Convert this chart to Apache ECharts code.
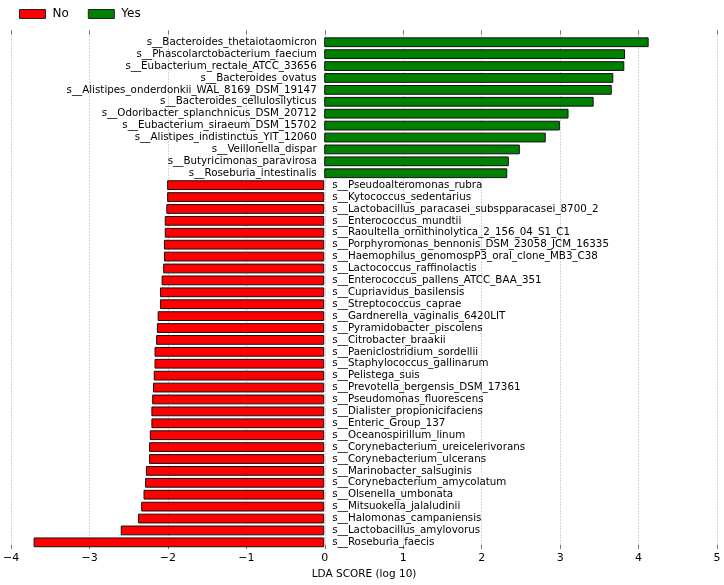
<!DOCTYPE html>
<html>
<head>
<meta charset="utf-8">
<script src="https://cdn.jsdelivr.net/npm/echarts@6/dist/echarts.min.js"></script>
<style>html,body{margin:0;padding:0;background:#fff}#c{width:724px;height:585px}</style>
</head>
<body>
<div id="c"></div>
<script>
const categories = [
  's__Bacteroides_thetaiotaomicron',
  's__Phascolarctobacterium_faecium',
  's__Eubacterium_rectale_ATCC_33656',
  's__Bacteroides_ovatus',
  's__Alistipes_onderdonkii_WAL_8169_DSM_19147',
  's__Bacteroides_cellulosilyticus',
  's__Odoribacter_splanchnicus_DSM_20712',
  's__Eubacterium_siraeum_DSM_15702',
  's__Alistipes_indistinctus_YIT_12060',
  's__Veillonella_dispar',
  's__Butyricimonas_paravirosa',
  's__Roseburia_intestinalis',
  's__Pseudoalteromonas_rubra',
  's__Kytococcus_sedentarius',
  's__Lactobacillus_paracasei_subspparacasei_8700_2',
  's__Enterococcus_mundtii',
  's__Raoultella_ornithinolytica_2_156_04_S1_C1',
  's__Porphyromonas_bennonis_DSM_23058_JCM_16335',
  's__Haemophilus_genomospP3_oral_clone_MB3_C38',
  's__Lactococcus_raffinolactis',
  's__Enterococcus_pallens_ATCC_BAA_351',
  's__Cupriavidus_basilensis',
  's__Streptococcus_caprae',
  's__Gardnerella_vaginalis_6420LIT',
  's__Pyramidobacter_piscolens',
  's__Citrobacter_braakii',
  's__Paeniclostridium_sordellii',
  's__Staphylococcus_gallinarum',
  's__Pelistega_suis',
  's__Prevotella_bergensis_DSM_17361',
  's__Pseudomonas_fluorescens',
  's__Dialister_propionicifaciens',
  's__Enteric_Group_137',
  's__Oceanospirillum_linum',
  's__Corynebacterium_ureicelerivorans',
  's__Corynebacterium_ulcerans',
  's__Marinobacter_salsuginis',
  's__Corynebacterium_amycolatum',
  's__Olsenella_umbonata',
  's__Mitsuokella_jalaludinii',
  's__Halomonas_campaniensis',
  's__Lactobacillus_amylovorus',
  's__Roseburia_faecis'
];
const ldaScores = [
  4.13, 3.83, 3.82, 3.68, 3.66, 3.43, 3.11, 3.00, 2.82, 2.49, 2.35, 2.33,
  -2.00, -2.00, -2.01, -2.03, -2.03, -2.04, -2.04, -2.05, -2.07, -2.09, -2.09,
  -2.12, -2.13, -2.14, -2.16, -2.16, -2.17, -2.18, -2.19, -2.20, -2.20,
  -2.22, -2.23, -2.23, -2.27, -2.28, -2.30, -2.33, -2.37, -2.59, -3.70
];
const groups = ['No', 'Yes'];
const groupColors = ['#ff0000', '#008000'];
const xTicks = [-4, -3, -2, -1, 0, 1, 2, 3, 4, 5];

const noData = ldaScores.map(v => v < 0 ? v : '-');
const yesData = ldaScores.map(v => v >= 0 ? v : '-');
const FONT = 'DejaVu Sans';

const chart = echarts.init(document.getElementById('c'), null, {renderer: 'canvas'});
chart.setOption({
  animation: false,
  textStyle: {fontFamily: FONT},
  legend: {
    left: 14, top: 3, icon: 'rect',
    itemWidth: 26, itemHeight: 9, itemGap: 19,
    textStyle: {fontFamily: FONT, fontSize: 12, color: '#000', padding: [0, 0, 0, 2]},
    data: groups.map((g, i) => ({name: g, itemStyle: {color: groupColors[i], borderColor: '#222', borderWidth: 1}}))
  },
  grid: [
    {left: 10, right: 7, top: 30.5, bottom: 30, containLabel: false},
    {left: 10, right: 7, top: 36.3, height: 512, containLabel: false}
  ],
  xAxis: [
    {
      gridIndex: 0, type: 'value', position: 'bottom',
      min: xTicks[0], max: xTicks[xTicks.length - 1], interval: 1,
      axisLine: {show: false},
      axisTick: {show: true, inside: true, length: 4, lineStyle: {color: '#777'}},
      splitLine: {show: true, lineStyle: {color: '#aaa', type: [1, 2], width: 1}},
      axisLabel: {
        fontFamily: FONT, fontSize: 11, color: '#000', margin: 4,
        formatter: v => (v < 0 ? '\u2212' + Math.abs(v) : String(v))
      },
      name: 'LDA SCORE (log 10)', nameLocation: 'middle', nameGap: 20,
      nameTextStyle: {fontFamily: FONT, fontSize: 10.5, color: '#000'}
    },
    {
      gridIndex: 0, type: 'value', position: 'top',
      min: xTicks[0], max: xTicks[xTicks.length - 1], interval: 1,
      axisLine: {show: false},
      axisTick: {show: true, inside: true, length: 4, lineStyle: {color: '#777'}},
      splitLine: {show: false},
      axisLabel: {show: false}
    },
    {
      gridIndex: 1, type: 'value',
      min: xTicks[0], max: xTicks[xTicks.length - 1], interval: 1,
      show: false, splitLine: {show: false}
    }
  ],
  yAxis: [
    {gridIndex: 0, type: 'value', show: false, splitLine: {show: false}},
    {
      gridIndex: 1, type: 'category', data: categories, inverse: true,
      axisLine: {show: false}, axisTick: {show: false}, axisLabel: {show: false},
      splitLine: {show: false}
    }
  ],
  series: [
    {
      name: groups[0], type: 'bar', xAxisIndex: 2, yAxisIndex: 1,
      data: noData, barWidth: '82%', barGap: '-100%',
      itemStyle: {color: groupColors[0], borderColor: '#111', borderWidth: 1},
      label: {show: true, position: 'right', distance: 8, formatter: '{b}',
        fontFamily: FONT, fontSize: 10.3, color: '#000'}
    },
    {
      name: groups[1], type: 'bar', xAxisIndex: 2, yAxisIndex: 1,
      data: yesData, barWidth: '82%', barGap: '-100%',
      itemStyle: {color: groupColors[1], borderColor: '#111', borderWidth: 1},
      label: {show: true, position: 'left', distance: 7.5, formatter: '{b}',
        fontFamily: FONT, fontSize: 10.3, color: '#000'}
    }
  ]
});
</script>
</body>
</html>
